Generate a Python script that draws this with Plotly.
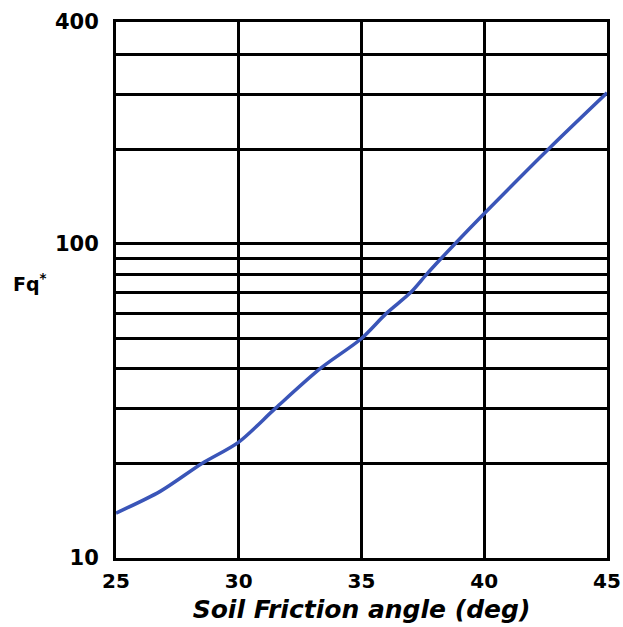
import plotly.graph_objects as go

# Data
friction_angle = [25, 26.8, 28.5, 30, 31.5, 33.3, 35, 36.0, 37.0, 37.65, 38.25, 38.8, 40, 42.6, 45]
fq_star = [13.9, 16.3, 20, 23.4, 30, 40, 50, 60, 70, 80, 90, 100, 125, 200, 303]

y_major_vals = [10, 100, 509]
y_major_text = ["10", "100", "400"]
y_minor_vals = [20, 30, 40, 50, 60, 70, 80, 90, 200, 300, 400]
x_tick_vals = [25, 30, 35, 40, 45]

fig = go.Figure()
fig.add_trace(go.Scatter(
    x=friction_angle, y=fq_star, mode="lines",
    line=dict(color="#3a55b8", width=3.5, shape="spline", smoothing=0.8),
    showlegend=False, hoverinfo="skip",
))

font_family = "DejaVu Sans"
fig.update_layout(
    width=623, height=627,
    margin=dict(l=116, r=16, t=22, b=69),
    paper_bgcolor="white", plot_bgcolor="white",
    xaxis=dict(
        range=[25, 45], tickvals=x_tick_vals, automargin=False,
        showgrid=True, gridcolor="black", gridwidth=2.5,
        showline=True, linecolor="black", linewidth=3, mirror=True,
        ticks="", zeroline=False, ticklabelstandoff=3,
        tickfont=dict(family=font_family, size=20, color="black", weight="bold"),
        title=dict(text="<b><i>Soil Friction angle (deg)</i></b>",
                   font=dict(family=font_family, size=25, color="black"),
                   standoff=9),
    ),
    yaxis=dict(
        type="log", range=[1, 2.7067], automargin=False,
        tickvals=y_major_vals, ticktext=y_major_text,
        showgrid=True, gridcolor="black", gridwidth=2.5,
        minor=dict(tickvals=y_minor_vals, showgrid=True, gridcolor="black", gridwidth=2.5, ticks=""),
        showline=True, linecolor="black", linewidth=3, mirror=True,
        ticks="", zeroline=False, ticklabelstandoff=10,
        tickfont=dict(family=font_family, size=21, color="black", weight="bold"),
    ),
    annotations=[dict(
        text="<b>Fq<sup>*</sup></b>", xref="paper", yref="paper",
        x=-0.175, y=0.513, xanchor="center", yanchor="middle", showarrow=False,
        font=dict(family=font_family, size=19, color="black"),
    )],
)

fig.write_html(
    "out.html",
    config={"displayModeBar": False},
    post_script="document.body.style.margin='0';document.body.style.overflow='hidden';",
)
